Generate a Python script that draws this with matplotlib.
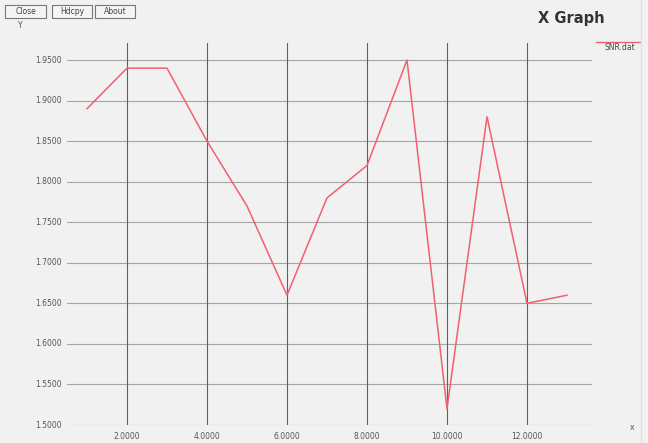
import matplotlib
matplotlib.use("Agg")
import matplotlib.pyplot as plt
from matplotlib.patches import Rectangle

x_vals = [1, 2, 3, 4, 5, 6, 7, 8, 9, 10, 11, 12, 13]
snr_vals = [1.89, 1.94, 1.94, 1.85, 1.77, 1.66, 1.78, 1.82, 1.95, 1.52, 1.88, 1.65, 1.66]
x_ticks = [2, 4, 6, 8, 10, 12]
y_ticks = [1.50, 1.55, 1.60, 1.65, 1.70, 1.75, 1.80, 1.85, 1.90, 1.95]
buttons = ["Close", "Hdcpy", "About"]

W, H = 648, 443
fig = plt.figure(figsize=(W/100, H/100), dpi=100)
fig.patch.set_facecolor("#f1f1f1")

ax = fig.add_axes([67/W, 1-425/H, (592-67)/W, (425-43)/H])
ax.set_facecolor("#f1f1f1")
ax.set_xlim(0.5, 13.625)
ax.set_ylim(1.5, 1.971)
for s in ax.spines.values():
    s.set_visible(False)
ax.set_xticks([])
ax.set_yticks([])

for yv in y_ticks:
    ax.axhline(yv, color="#a5a5a5", lw=0.8, zorder=1)
    ax.annotate(f"{yv:.4f}", xy=(0, yv), xycoords=("axes fraction", "data"),
                xytext=(-4, 0), textcoords="offset points", ha="right", va="center",
                fontsize=5.5, color="#555555")
for xv in x_ticks:
    ax.axvline(xv, color="#606060", lw=0.8, zorder=1)
    ax.annotate(f"{xv:.4f}", xy=(xv, 0), xycoords=("data", "axes fraction"),
                xytext=(0, -5), textcoords="offset points", ha="center", va="top",
                fontsize=5.5, color="#555555")

ax.plot(x_vals, snr_vals, color="#f06070", lw=1.1, zorder=3)

# buttons
bx = [5, 52, 95]
bw = [41, 40, 40]
for b, x0, w in zip(buttons, bx, bw):
    fig.patches.append(Rectangle((x0/W, 1-18/H), w/W, 13/H, transform=fig.transFigure,
                                 facecolor="#f4f4f4", edgecolor="#777777", lw=0.8))
    fig.text((x0+w/2)/W, 1-11.5/H, b, ha="center", va="center", fontsize=5.5, color="#444444")

fig.text(20/W, 1-26/H, "Y", ha="center", va="center", fontsize=5.5, color="#555555")
fig.text(632/W, 1-427/H, "x", ha="center", va="center", fontsize=5.5, color="#555555")
fig.text(571/W, 1-18/H, "X Graph", ha="center", va="center", fontsize=10.5,
         fontweight="bold", color="#333333")
fig.text(620/W, 1-47/H, "SNR.dat", ha="center", va="center", fontsize=5.5, color="#444444")
fig.lines.append(plt.Line2D([596/W, 640/W], [1-42/H, 1-42/H], transform=fig.transFigure,
                            color="#f06070", lw=1.0))
fig.lines.append(plt.Line2D([641/W, 641/W], [0, 1], transform=fig.transFigure,
                            color="#e0e0e0", lw=1.0))

fig.savefig("out.png", dpi=100, facecolor=fig.get_facecolor())
